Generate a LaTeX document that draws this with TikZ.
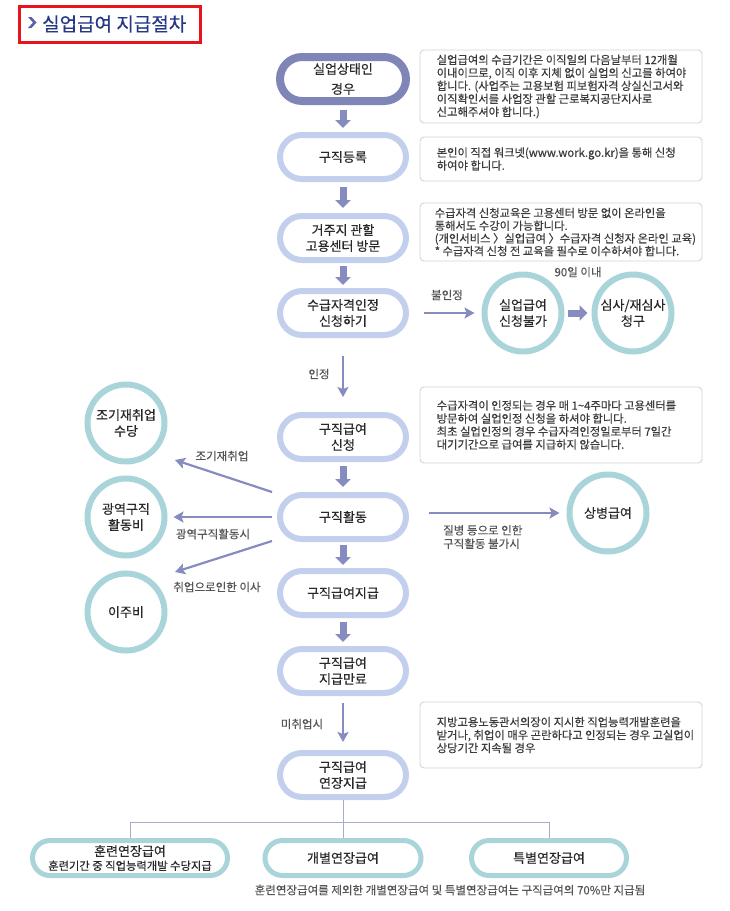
\documentclass[tikz,border=0pt]{standalone}
\usepackage{fontspec}
\setmainfont{Noto Sans CJK KR}[FakeBold=0.3]
\usetikzlibrary{arrows.meta,calc}
\definecolor{navy}{RGB}{38,55,135}
\definecolor{chev}{RGB}{88,96,168}
\definecolor{titred}{RGB}{232,20,28}
\definecolor{darkbd}{RGB}{128,133,184}
\definecolor{lightbd}{RGB}{194,208,238}
\definecolor{arrowc}{RGB}{135,140,192}
\definecolor{tealc}{RGB}{168,212,218}
\definecolor{boxbd}{RGB}{212,212,212}
\definecolor{txt}{RGB}{40,40,40}
\definecolor{desc}{RGB}{60,60,60}
\definecolor{lbl}{RGB}{85,85,85}
\definecolor{treec}{RGB}{165,172,205}
\begin{document}
\begin{tikzpicture}[x=1pt,y=-1pt,
  stepbox/.style={draw=lightbd, line width=6pt, rounded corners=22pt, minimum width=126pt, minimum height=44pt, fill=white, align=center, inner sep=0pt, font=\fontsize{13}{16}\selectfont, text=txt},
  circbox/.style={circle, draw=tealc, line width=6pt, minimum size=77pt, fill=white, align=center, inner sep=0pt, font=\fontsize{13}{16}\selectfont, text=txt},
  botbox/.style={draw=tealc, line width=5pt, rounded corners=17.5pt, minimum height=35pt, fill=white, align=center, inner sep=0pt, font=\fontsize{13}{15}\selectfont, text=txt},
  descbox/.style={draw=boxbd, line width=0.9pt, rounded corners=4pt, minimum width=282pt, fill=white},
  desctext/.style={anchor=west, align=left, inner sep=0pt, font=\fontsize{11.3}{13}\selectfont, text=desc},
  lbltext/.style={inner sep=0pt, font=\fontsize{11.5}{13}\selectfont, text=lbl},
  thickarrow/.style={draw=arrowc, line width=7pt, -{Triangle[length=8pt,width=15pt]}},
  thinarrow/.style={draw=arrowc, line width=2.2pt, -{Stealth[length=10pt,width=11pt,inset=2pt]}},
  treeline/.style={draw=treec, line width=1pt}
]
\useasboundingbox (0,0) rectangle (730,911);
% title
\draw[titred, line width=3pt] (19.5,6.5) rectangle (200.5,42.5);
\fill[chev] (28,17)--(31.5,17)--(36.5,22.5)--(31.5,28)--(28,28)--(33,22.5)--cycle;
\node[anchor=west, inner sep=0pt, font=\fontsize{19}{22}\selectfont, text=navy] (title) at (42,24) {실업급여 지급절차};

% main column
\node[stepbox, draw=darkbd, line width=8pt] (n1) at (343,79) {실업상태인\\[4pt]경우};
\node[stepbox] (n2) at (343,157) {구직등록};
\node[stepbox] (n3) at (343,238) {거주지 관할\\고용센터 방문};
\node[stepbox] (n4) at (343,313) {수급자격인정\\신청하기};
\node[stepbox] (n5) at (343,437) {구직급여\\신청};
\node[stepbox] (n6) at (343,517) {구직활동};
\node[stepbox] (n7) at (343,593) {구직급여지급};
\node[stepbox] (n8) at (343,671) {구직급여\\지급만료};
\node[stepbox] (n9) at (343,775) {구직급여\\연장지급};

\draw[thickarrow] ($(n1.south)+(0,5)$) -- ($(n2.north)+(0,-4)$);
\draw[thickarrow] ($(n2.south)+(0,5)$) -- ($(n3.north)+(0,-5)$);
\draw[thickarrow] ($(n3.south)+(0,3)$) -- ($(n4.north)+(0,-3)$);
\draw[thinarrow] ($(n4.south)+(0,18)$) -- ($(n5.north)+(0,-15)$);
\draw[thickarrow] ($(n5.south)+(0,4)$) -- ($(n6.north)+(0,-5)$);
\draw[thickarrow] ($(n6.south)+(0,3)$) -- ($(n7.north)+(0,-3)$);
\draw[thickarrow] ($(n7.south)+(0,4)$) -- ($(n8.north)+(0,-4)$);
\draw[thinarrow] ($(n8.south)+(0,7)$) -- ($(n9.north)+(0,-8)$);

\node[lbltext] (linj) at (319,374) {인정};
\node[lbltext] (lmi) at (302,724) {미취업시};

% description boxes
\node[descbox, minimum height=73pt] (d1) at (561,86.5) {};
\node[desctext] (d1t) at ($(d1.west)+(17,0)$) {실업급여의 수급기간은 이직일의 다음날부터 12개월\\이내이므로, 이직 이후 지체 없이 실업의 신고를 하여야\\합니다. (사업주는 고용보험 피보험자격 상실신고서와\\이직확인서를 사업장 관할 근로복지공단지사로\\신고해주셔야 합니다.)};
\node[descbox, minimum height=44pt] (d2) at (561,159) {};
\node[desctext] (d2t) at ($(d2.west)+(17,0)$) {본인이 직접 워크넷(www.work.go.kr)을 통해 신청\\하여야 합니다.};
\node[descbox, minimum height=58pt] (d3) at (561,232) {};
\node[desctext, font=\fontsize{11.3}{12.7}\selectfont] (d3t) at ($(d3.west)+(15,0)$) {수급자격 신청교육은 고용센터 방문 없이 온라인을\\통해서도 수강이 가능합니다.\\(개인서비스 〉실업급여 〉수급자격 신청자 온라인 교육)\\* 수급자격 신청 전 교육을 필수로 이수하셔야 합니다.};
\node[descbox, minimum height=76pt] (d4) at (561,425) {};
\node[desctext] (d4t) at ($(d4.west)+(17,0)$) {수급자격이 인정되는 경우 매 1\textasciitilde4주마다 고용센터를\\방문하여 실업인정 신청을 하셔야 합니다.\\최초 실업인정의 경우 수급자격인정일로부터 7일간\\대기기간으로 급여를 지급하지 않습니다.};
\node[descbox, minimum height=66pt] (d5) at (561,735) {};
\node[desctext] (d5t) at ($(d5.west)+(17,0)$) {지방고용노동관서의장이 지시한 직업능력개발훈련을\\받거나, 취업이 매우 곤란하다고 인정되는 경우 고실업이\\상당기간 지속될 경우};

% rejection branch
\node[circbox] (c4) at (523,313) {실업급여\\신청불가};
\node[circbox] (c5) at (633,313) {심사/재심사\\청구};
\draw[thinarrow] ($(n4.east)+(15,0)$) -- ($(c4.west)+(-7,0)$);
\draw[thickarrow] ($(c4.east)+(3,0)$) -- ($(c5.west)+(-4,0)$);
\node[lbltext] (lbul) at (447,295) {불인정};
\node[lbltext] (l90) at (578,272) {90일 이내};

% left circles
\node[circbox] (c1) at (126,423) {조기재취업\\수당};
\node[circbox] (c2) at (126,517) {광역구직\\활동비};
\node[circbox] (c3) at (126,612) {이주비};
\coordinate (e1) at (175,460);
\coordinate (e3) at (175,572);
\draw[thinarrow] ($(n6.west)+(-5,-25)$) -- (e1);
\draw[thinarrow] ($(n6.west)+(-5,0)$) -- ($(c2.east)+(6,0)$);
\draw[thinarrow] ($(n6.west)+(-5,24)$) -- (e3);
\node[lbltext] (ljo) at (222,456) {조기재취업};
\node[lbltext] (lgw) at (213,534) {광역구직활동시};
\node[lbltext] (lis) at (217,587) {취업으로인한 이사};

% sickness
\node[circbox] (c6) at (608,513) {상병급여};
\draw[thinarrow] ($(n6.east)+(20,-4)$) -- ($(c6.west)+(-7,0)$);
\node[lbltext, anchor=west, align=left, font=\fontsize{11.5}{13.5}\selectfont] (lsick) at (443,537) {질병 등으로 인한\\구직활동 불가시};

% bottom
\node[botbox, minimum width=195pt, font=\fontsize{13}{14}\selectfont] (b1) at (130,858) {훈련연장급여\\{\fontsize{11.3}{12}\selectfont 훈련기간 중 직업능력개발 수당지급}};
\node[botbox, minimum width=156pt] (b2) at (343,858) {개별연장급여};
\node[botbox, minimum width=155pt] (b3) at (549,858) {특별연장급여};
\coordinate (j) at (343,822);
\draw[treeline] (n9.south) -- (b2.north);
\draw[treeline] (b1.north) |- (j) -| (b3.north);
\node[lbltext, font=\fontsize{11.5}{12}\selectfont] (foot) at (450,890) {훈련연장급여를 제외한 개별연장급여 및 특별연장급여는 구직급여의 70\%만 지급됨};
\end{tikzpicture}
\end{document}
